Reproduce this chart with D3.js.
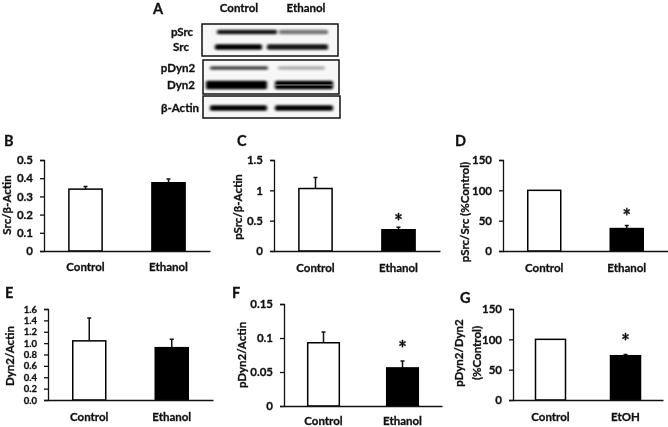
<!DOCTYPE html>
<html>
<head>
<meta charset="utf-8">
<script src="https://cdn.jsdelivr.net/npm/d3@7"></script>
<style>
  html, body { margin: 0; padding: 0; background: #fff; }
  svg { display: block; filter: blur(0.35px); }
  text { font-family: Lato, sans-serif; font-weight: 700; fill: #111; stroke: #111; stroke-width: 0.3px; }
</style>
</head>
<body>
<div id="chart"></div>
<script>
// chart values
const categories = ["Control", "Ethanol"];
const categoriesG = ["Control", "EtOH"];

const srcValues = [0.34, 0.375];
const srcErrors = [0.015, 0.02];
const srcTicks = [0, 0.1, 0.2, 0.3, 0.4, 0.5];

const psrcValues = [1.03, 0.35];
const psrcErrors = [0.18, 0.04];
const psrcTicks = [0, 0.5, 1, 1.5];

const ratioSrcValues = [100, 37];
const ratioSrcErrors = [0, 5];
const ratioSrcTicks = [0, 50, 100, 150];

const dynValues = [1.04, 0.92];
const dynErrors = [0.40, 0.15];
const dynTicks = [0, 0.2, 0.4, 0.6, 0.8, 1.0, 1.2, 1.4, 1.6];

const pdynValues = [0.093, 0.056];
const pdynErrors = [0.016, 0.010];
const pdynTicks = [0, 0.05, 0.1, 0.15];

const ratioDynValues = [100, 73];
const ratioDynErrors = [0, 2];
const ratioDynTicks = [0, 50, 100, 150];

// blot band strength per lane (control, ethanol), 0..1
const blotNames = ["pSrc", "Src", "pDyn2", "Dyn2", "β-Actin"];
const blotStrength = [[0.9, 0.45], [1, 0.9], [0.7, 0.2], [1, 1], [1, 1]];

const width = 668, height = 427;
const svg = d3.select("#chart").append("svg")
    .attr("width", width)
    .attr("height", height);

svg.append("defs").append("filter")
    .attr("id", "smear")
    .attr("x", "-10%").attr("y", "-100%")
    .attr("width", "120%").attr("height", "300%")
    .append("feGaussianBlur")
    .attr("stdDeviation", "1.6 1.1");

function letter(t, x, y) {
    svg.append("text")
        .attr("x", x)
        .attr("y", y)
        .style("font-size", "14.5px")
        .text(t);
}

// ---- blot panel A
function drawBlot() {
    const boxes = [
        {x: 202, y: 24, w: 136, h: 32},
        {x: 203, y: 60, w: 136, h: 34},
        {x: 203, y: 96, w: 137, h: 22}
    ];
    const rows = [
        {y: 32, h: 4.5, spans: [[217, 277], [279, 328]], label: 182},
        {y: 47, h: 5.5, spans: [[215, 262], [267, 328]], label: 181},
        {y: 68, h: 3.5, spans: [[210, 268], [278, 325]], label: 178},
        {y: 85, h: 8.5, spans: [[206, 267], [275, 333]], label: 181},
        {y: 108, h: 5.5, spans: [[210, 267], [275, 333]], label: 180}
    ];
    const alpha = d3.scaleLinear().domain([0, 1]).range([0.12, 1]);

    svg.selectAll("rect.box").data(boxes).join("rect")
        .attr("class", "box")
        .attr("x", d => d.x).attr("y", d => d.y)
        .attr("width", d => d.w).attr("height", d => d.h)
        .attr("fill", "#f7f7f7")
        .attr("stroke", "#111")
        .attr("stroke-width", 1.5);

    rows.forEach(function(r, i) {
        r.spans.forEach(function(s, lane) {
            svg.append("rect")
                .attr("x", s[0]).attr("width", s[1] - s[0])
                .attr("y", r.y - r.h / 2).attr("height", r.h)
                .attr("rx", 1.5)
                .attr("fill", "#050505")
                .attr("opacity", alpha(blotStrength[i][lane]))
                .attr("filter", "url(#smear)");
        });
        svg.append("text")
            .attr("x", r.label)
            .attr("y", r.y)
            .attr("text-anchor", "middle")
            .attr("dy", "0.35em")
            .style("font-size", "11.5px")
            .text(blotNames[i]);
    });

    // Dyn2 splits in two in the ethanol lane
    svg.append("rect")
        .attr("x", rows[3].spans[1][0]).attr("width", rows[3].spans[1][1] - rows[3].spans[1][0])
        .attr("y", rows[3].y - 0.5).attr("height", 1)
        .attr("fill", "#999");

    categories.forEach(function(c, i) {
        svg.append("text")
            .attr("x", [239, 306][i]).attr("y", 8)
            .attr("text-anchor", "middle")
            .attr("dy", "0.35em")
            .style("font-size", "11.5px")
            .text(c);
    });
}

// ---- one bar panel
function barPanel(o) {
    const g = svg.append("g");
    const x = d3.scaleBand().domain(o.cats).range([o.left, o.right])
        .paddingInner(0.6).paddingOuter(0.3);
    const y = d3.scaleLinear().domain(d3.extent(o.ticks)).range([o.bottom, o.top]);

    const yAxis = d3.axisLeft(y).tickValues(o.ticks).tickSizeOuter(0).tickSize(4).tickPadding(o.pad || 7)
        .tickFormat(o.format || (d => d));
    const xAxis = d3.axisBottom(x).tickSize(0).tickPadding(0).tickFormat("");

    // error bars go under the bars
    g.selectAll("path.err").data(o.cats).join("path")
        .attr("class", "err")
        .attr("fill", "none")
        .attr("stroke", "#111")
        .attr("stroke-width", 1.5)
        .attr("d", function(d, i) {
            if (!o.errors[i]) return null;
            const cx = x(d) + x.bandwidth() / 2;
            const ty = y(o.values[i] + o.errors[i]);
            return `M${cx},${y(o.values[i])}V${ty}M${cx - 2},${ty}H${cx + 2}`;
        });

    g.selectAll("rect").data(o.cats).join("rect")
        .attr("x", d => x(d))
        .attr("width", x.bandwidth())
        .attr("y", (d, i) => y(o.values[i]))
        .attr("height", (d, i) => o.bottom - y(o.values[i]))
        .attr("fill", (d, i) => i ? "#000" : "#fff")
        .attr("stroke", "#000")
        .attr("stroke-width", 1.5);

    const ya = g.append("g").attr("transform", `translate(${o.left},0)`).call(yAxis);
    ya.selectAll("text").style("font-size", o.tickFont || "11.5px");
    const xa = g.append("g").attr("transform", `translate(0,${o.bottom})`).call(xAxis);
    [ya, xa].forEach(a => a.selectAll("path,line").attr("stroke", "#111").attr("stroke-width", 1.3));

    g.selectAll("text.cat").data(o.cats).join("text")
        .attr("class", "cat")
        .attr("x", d => x(d) + x.bandwidth() / 2)
        .attr("y", o.catY)
        .attr("text-anchor", "middle")
        .attr("dy", "0.35em")
        .style("font-size", "11.5px")
        .text(d => d);

    o.title.forEach(function(t, i) {
        g.append("text")
            .attr("transform", `translate(${o.titleX[i]},${o.titleY}) rotate(-90)`)
            .attr("text-anchor", "middle")
            .attr("dy", "0.35em")
            .style("font-size", "11.5px")
            .text(t);
    });

    if (o.starY) {
        g.append("text")
            .attr("x", x(o.cats[1]) + x.bandwidth() / 2)
            .attr("y", o.starY)
            .attr("text-anchor", "middle")
            .attr("dy", "0.55em")
            .style("font-size", "20px")
            .text("*");
    }
}

drawBlot();

barPanel({cats: categories, values: srcValues, errors: srcErrors, ticks: srcTicks,
    left: 44, right: 210, top: 160, bottom: 251, catY: 267,
    title: ["Src/β-Actin"], titleX: [7], titleY: 205});
barPanel({cats: categories, values: psrcValues, errors: psrcErrors, ticks: psrcTicks,
    left: 274, right: 440, top: 160, bottom: 251, catY: 268, starY: 218,
    title: ["pSrc/β-Actin"], titleX: [238], titleY: 207});
barPanel({cats: categories, values: ratioSrcValues, errors: ratioSrcErrors, ticks: ratioSrcTicks,
    left: 503, right: 668, top: 160, bottom: 251, catY: 268, starY: 213,
    title: ["pSrc/Src (%Control)"], titleX: [465], titleY: 212});
barPanel({cats: categories, values: dynValues, errors: dynErrors, ticks: dynTicks,
    left: 48, right: 213, top: 309, bottom: 400, catY: 417, format: d3.format(".1f"), tickFont: "9.5px",
    title: ["Dyn2/Actin"], titleX: [10], titleY: 356});
barPanel({cats: categories, values: pdynValues, errors: pdynErrors, ticks: pdynTicks,
    left: 284, right: 442, top: 304, bottom: 406, catY: 420.5, starY: 345,
    title: ["pDyn2/Actin"], titleX: [242], titleY: 355});
barPanel({cats: categoriesG, values: ratioDynValues, errors: ratioDynErrors, ticks: ratioDynTicks,
    left: 513, right: 663, top: 309, bottom: 400, catY: 417, starY: 338,
    title: ["pDyn2/Dyn2", "(%Control)"], titleX: [459, 477], titleY: 353});

letter("A", 153, 14);
letter("B", 4, 146);
letter("C", 237, 146);
letter("D", 455, 146);
letter("E", 5, 298);
letter("F", 232, 298);
letter("G", 460, 303);
</script>
</body>
</html>
